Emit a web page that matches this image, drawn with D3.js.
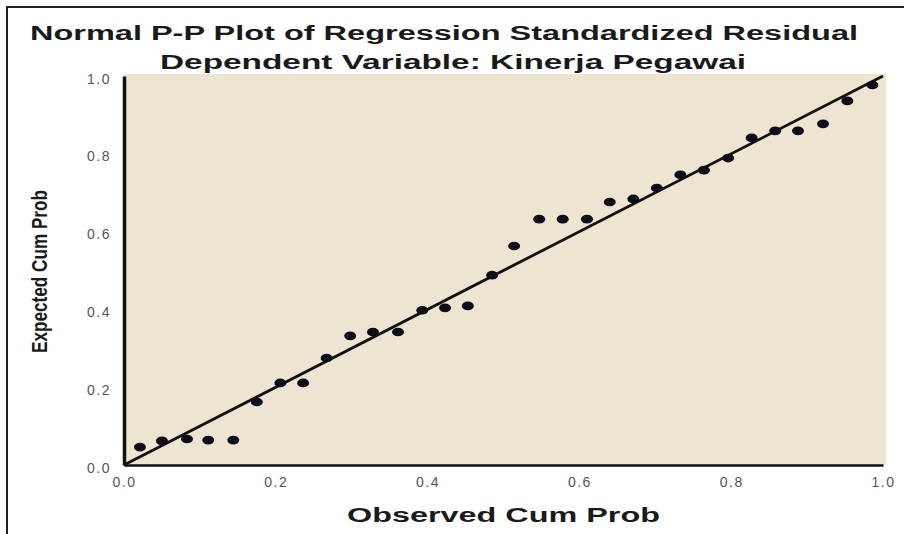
<!DOCTYPE html>
<html>
<head>
<meta charset="utf-8">
<script src="https://cdn.jsdelivr.net/npm/d3@7"></script>
<style>
  body { margin:0; background:#fff; }
  svg { display:block; font-family:"Liberation Sans", Arial, sans-serif; }
  .tick text { fill:#555; font-size:14px; letter-spacing:1.5px; }
</style>
</head>
<body>
<div id="pp_chart"></div>
<script>
// observed vs expected cumulative probabilities
var observed = [0.021,0.050,0.083,0.111,0.144,0.175,0.206,0.236,0.267,0.298,0.328,0.361,
  0.393,0.423,0.453,0.485,0.514,0.547,0.578,0.610,0.640,0.671,0.702,0.733,
  0.764,0.796,0.827,0.858,0.888,0.921,0.953,0.986];
var expected = [0.046,0.062,0.067,0.064,0.064,0.162,0.211,0.211,0.275,0.332,0.342,0.342,
  0.398,0.404,0.409,0.488,0.563,0.632,0.632,0.632,0.676,0.684,0.712,0.746,
  0.758,0.789,0.841,0.859,0.859,0.877,0.936,0.977];
var ticks = [0.0,0.2,0.4,0.6,0.8,1.0];
var refLine = [0,1];

var title = "Normal P-P Plot of Regression Standardized Residual";
var subtitle = "Dependent Variable: Kinerja Pegawai";
var xTitle = "Observed Cum Prob";
var yTitle = "Expected Cum Prob";

var W = 904, H = 534;
var margin = {top:76, right:21, bottom:69, left:124};

var svg = d3.select("#pp_chart").append("svg")
  .attr("width",W)
  .attr("height",H);

// outer frame (top and left edges only are in view)
svg.append("path")
  .attr("d","M7," + H + "V7H" + W)
  .attr("fill","none")
  .attr("stroke","#222")
  .attr("stroke-width",2);

var scaleX = d3.scaleLinear().domain([0,1]).range([margin.left, W - margin.right]);
var scaleY = d3.scaleLinear().domain([0,1]).range([H - margin.bottom, margin.top]);

// plot background
svg.append("rect")
  .attr("x",scaleX(0))
  .attr("y",scaleY(1) - 2)
  .attr("width",scaleX(1) - scaleX(0) + 3)
  .attr("height",scaleY(0) - scaleY(1) + 2)
  .attr("fill","#ede5d1");

var fmt = d3.format(".1f");

var xAxis = d3.axisBottom(scaleX).tickValues(ticks).tickFormat(fmt).tickSize(0).tickPadding(12);
var yAxis = d3.axisLeft(scaleY).tickValues(ticks).tickFormat(fmt).tickSize(0).tickPadding(13);

var gx = svg.append("g")
  .attr("transform","translate(0," + scaleY(0) + ")")
  .call(xAxis);
gx.select(".domain").attr("stroke","#111").attr("stroke-width",2.5);

var gy = svg.append("g")
  .attr("transform","translate(" + scaleX(0) + ",0)")
  .call(yAxis);
gy.select(".domain").attr("stroke","#111").attr("stroke-width",3.5);
gy.selectAll(".tick text").attr("dy","0.5em");

// diagonal reference line
var line = d3.line()
  .x(function(d){ return scaleX(d); })
  .y(function(d){ return scaleY(d); });

svg.append("path")
  .attr("d",line(refLine))
  .attr("fill","none")
  .attr("stroke","#111")
  .attr("stroke-width",2.8);

// points
var points = observed.map(function(o,i){ return {x:o, y:expected[i]}; });

svg.selectAll(".pt")
  .data(points)
  .enter().append("ellipse")
  .attr("class","pt")
  .attr("cx",function(d){ return scaleX(d.x); })
  .attr("cy",function(d){ return scaleY(d.y); })
  .attr("rx",6)
  .attr("ry",4.3)
  .attr("fill","#0d0d1a");

// titles, stretched wide like the original
function label(txt, x, y, len, size){
  return svg.append("text")
    .attr("x",x).attr("y",y)
    .attr("textLength",len).attr("lengthAdjust","spacingAndGlyphs")
    .style("font-size",size + "px").style("font-weight","bold").style("fill","#1a1a1a")
    .text(txt);
}

label(title, 30, 40, 828, 20);
label(subtitle, 160, 69, 586, 20);
label(xTitle, 347, 522, 313, 20);

svg.append("text")
  .attr("transform","translate(47,353) rotate(-90)")
  .attr("textLength",163).attr("lengthAdjust","spacingAndGlyphs")
  .style("font-size","22px").style("font-weight","bold").style("fill","#1a1a1a")
  .text(yTitle);
</script>
</body>
</html>
